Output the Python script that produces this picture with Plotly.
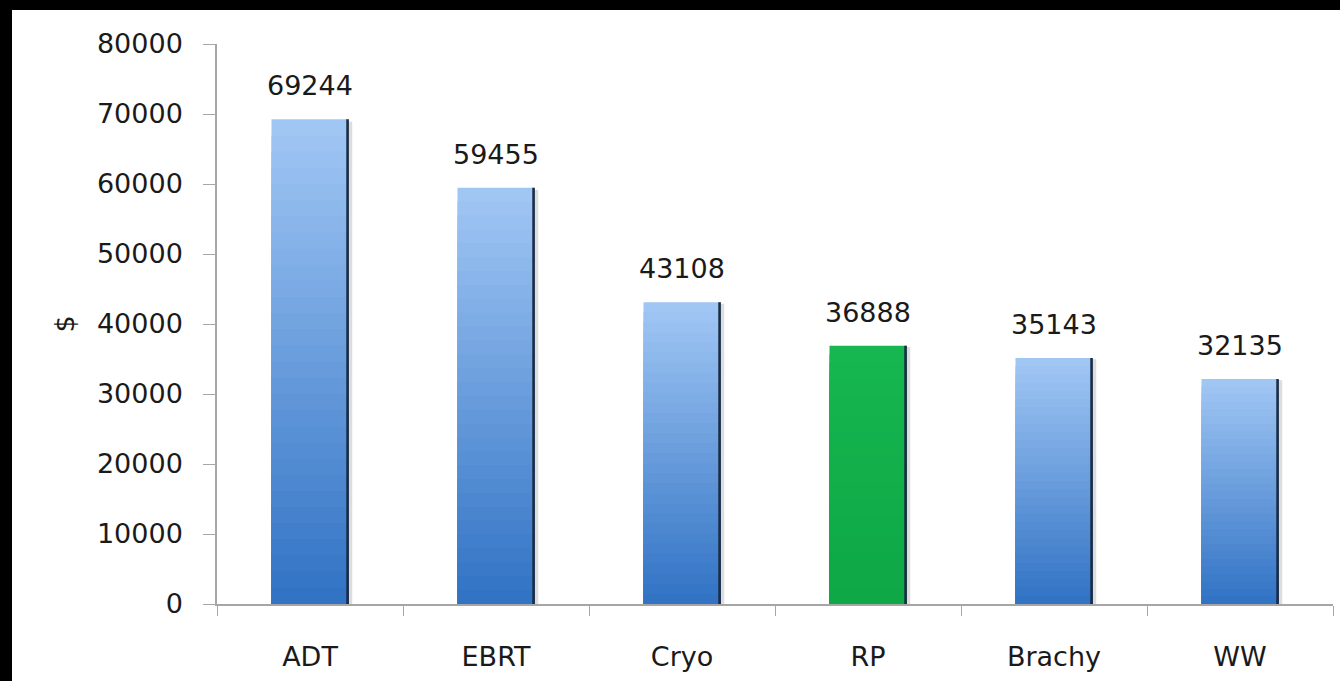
import plotly.graph_objects as go

categories = ["ADT", "EBRT", "Cryo", "RP", "Brachy", "WW"]
values = [69244, 59455, 43108, 36888, 35143, 32135]
highlight = ["RP"]
y_ticks = [0, 10000, 20000, 30000, 40000, 50000, 60000, 70000, 80000]

W, H = 1340, 681
ML, MR, MT, MB = 217, 7, 44, 77
PW, PH = W - ML - MR, H - MT - MB

FONT = "DejaVu Sans"
TXT = "#1a1a1a"
FS = 27

blue_top = (160, 198, 244)
blue_bot = (50, 115, 196)
green_top = (22, 182, 80)
green_bot = (14, 168, 70)

def lerp(a, b, t):
    return "rgb(%d,%d,%d)" % tuple(round(a[i] + (b[i] - a[i]) * t) for i in range(3))

BW = 0.414
N = 30
fig = go.Figure()
for k in range(N):
    t = k / (N - 1)
    heights = [v * (N - k) / N for v in values]
    colors = [lerp(green_top, green_bot, t) if c in highlight else lerp(blue_top, blue_bot, t)
              for c in categories]
    fig.add_trace(go.Bar(x=categories, y=heights, width=BW, offset=-BW / 2,
                         marker=dict(color=colors, line=dict(width=0)),
                         showlegend=False, hoverinfo="skip"))

# soft shadow and dark right edge
fig.add_trace(go.Bar(x=categories, y=[v * 0.995 for v in values], width=0.02, offset=BW / 2,
                     marker=dict(color="rgba(120,120,120,0.25)", line=dict(width=0)),
                     showlegend=False, hoverinfo="skip"))
fig.add_trace(go.Bar(x=categories, y=values, width=0.014, offset=BW / 2 - 0.012,
                     marker=dict(color="#1c2c44", line=dict(width=0)),
                     showlegend=False, hoverinfo="skip"))

for c, v in zip(categories, values):
    fig.add_annotation(x=c, y=v, text=str(v), showarrow=False, yanchor="bottom",
                       yshift=16, font=dict(family=FONT, size=FS, color=TXT))

shapes = [
    dict(type="rect", xref="paper", yref="paper",
         x0=-ML / PW, x1=(12 - ML) / PW, y0=-MB / PH, y1=1 + MT / PH,
         fillcolor="black", line=dict(width=0), layer="above"),
    dict(type="rect", xref="paper", yref="paper",
         x0=-ML / PW, x1=1 + MR / PW, y0=1 + (MT - 10) / PH, y1=1 + MT / PH,
         fillcolor="black", line=dict(width=0), layer="above"),
]

fig.update_layout(
    width=W, height=H,
    margin=dict(l=ML, r=MR, t=MT, b=MB),
    paper_bgcolor="white", plot_bgcolor="white",
    barmode="overlay",
    shapes=shapes,
    font=dict(family=FONT, color=TXT),
    xaxis=dict(type="category", showline=True, linecolor="#a6a6a6", linewidth=1.5,
               ticks="outside", tickson="boundaries", ticklen=10, tickcolor="#a6a6a6",
               tickfont=dict(family=FONT, size=FS, color=TXT), showgrid=False,
               zeroline=False, ticklabelstandoff=28, fixedrange=True),
    yaxis=dict(range=[0, 80000], tickvals=y_ticks, tickformat="d", showline=True,
               linecolor="#a6a6a6", linewidth=1.5, ticks="outside", ticklen=12,
               tickcolor="#a6a6a6",
               tickfont=dict(family=FONT, size=FS, color=TXT), showgrid=False,
               zeroline=False, ticklabelstandoff=15,
               title=dict(text="$", font=dict(family=FONT, size=FS, color=TXT), standoff=14)),
)

fig.write_html("out.html")
